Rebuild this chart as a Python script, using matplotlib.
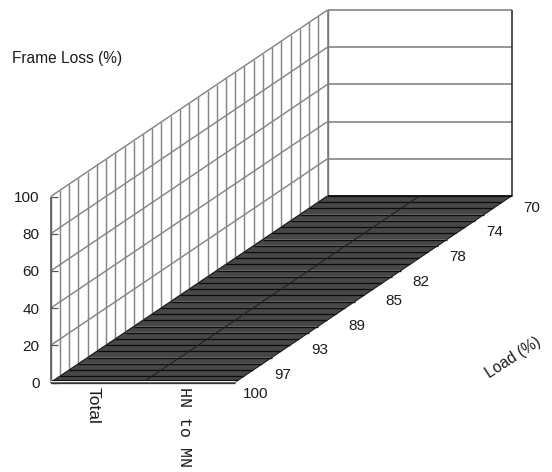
import matplotlib
matplotlib.use("Agg")
import matplotlib.pyplot as plt
from matplotlib.patches import Polygon

# Data
categories = ["Total", "HN to MN"]
loads = [70, 71, 72, 73, 74, 75, 76, 77, 78, 79, 80, 81, 82, 83, 84, 85,
         86, 87, 88, 89, 90, 91, 92, 93, 94, 95, 96, 97, 98, 99, 100]
load_labels = [70, 74, 78, 82, 85, 89, 93, 97, 100]
loss_ticks = [0, 20, 40, 60, 80, 100]

total_loss = [0, 0, 0, 0, 0, 0, 0, 0, 0, 0, 0, 0, 0, 0, 0, 0,
              0, 0, 0, 0, 0, 0, 0, 0, 0, 0, 0, 0, 0, 0, 0]
hn_mn_loss = [0, 0, 0, 0, 0, 0, 0, 0, 0, 0, 0, 0, 0, 0, 0, 0,
              0, 0, 0, 0, 0, 0, 0, 0, 0, 0, 0, 0, 0, 0, 0]

# Oblique projection of the box
X0, Y0 = 50.7, 382.5
WIDTH = 184.0
DX, DY = 276.8, -186.5
HEIGHT = 186.0


def project(cat, load, value):
    # cat: 0..2 along the front, load: 70 at the back, value in percent
    depth = (100 - load) / 30.0
    x = X0 + cat / 2.0 * WIDTH + depth * DX
    y = Y0 + depth * DY - value / 100.0 * HEIGHT
    return x, y


plt.rcParams['font.family'] = ['Liberation Sans', 'DejaVu Sans']

fig = plt.figure(figsize=(5.52, 4.72), dpi=100)
ax = fig.add_axes([0, 0, 1, 1])
ax.set_xlim(0, 552)
ax.set_ylim(472, 0)
ax.axis('off')

GRID = '#858585'
TEXT = '#1c1c1c'


def seg(a, b, color=GRID, lw=1.0, z=2):
    ax.plot([a[0], b[0]], [a[1], b[1]], color=color, lw=lw, zorder=z,
            solid_capstyle='butt')


# Side wall
for load in loads:
    seg(project(0, load, 0), project(0, load, 100), lw=1.05)
for v in loss_ticks:
    seg(project(0, 100, v), project(0, 70, v), lw=1.05)
    p = project(0, 100, v)
    seg((p[0], p[1]), (p[0] + 7, p[1]), color='#555555', lw=0.9)
seg(project(0, 100, 0), project(0, 100, 100), color='#555555', lw=1.1, z=3)

# Back wall
for v in loss_ticks:
    seg(project(0, 70, v), project(2, 70, v), lw=1.2)
seg(project(0, 70, 0), project(0, 70, 100), color='#777777', lw=1.1)
seg(project(2, 70, 0), project(2, 70, 100), color='#333333', lw=1.2)

# Surface, one ribbon per load step
series = [total_loss, hn_mn_loss]
for c in range(len(categories)):
    vals = series[c]
    for i in range(len(loads) - 1):
        pts = [project(c, loads[i], vals[i]),
               project(c + 1, loads[i], vals[i]),
               project(c + 1, loads[i + 1], vals[i + 1]),
               project(c, loads[i + 1], vals[i + 1])]
        ax.add_patch(Polygon(pts, closed=True, fc='#474747', ec='none', zorder=4))
    for i in range(len(loads)):
        seg(project(c, loads[i], vals[i]), project(c + 1, loads[i], vals[i]),
            color='#0c0c0c', lw=0.9, z=5)
    seg(project(c, 70, vals[0]), project(c, 100, vals[-1]), color='#1c1c1c', lw=0.8, z=5)
seg(project(2, 70, 0), project(2, 100, 0), color='#1c1c1c', lw=0.8, z=5)

# Front strip
fx0, fy0 = project(0, 100, 0)
fx1, fy1 = project(2, 100, 0)
ax.add_patch(Polygon([(fx0, fy0 - 2.4), (fx1 + 3, fy0 - 2.4), (fx1, fy0), (fx0, fy0)],
                     closed=True, fc='white', ec='none', zorder=6))
seg((fx0, fy0), (fx1, fy1), color='#444444', lw=1.1, z=7)
seg((fx0, fy0 - 2.6), (fx1 + 3, fy0 - 2.6), color='#111111', lw=0.8, z=7)
seg(project(0, 70, 0), project(2, 70, 0), color='#111111', lw=1.3, z=7)

# Tick labels
FS = 11
for v in loss_ticks:
    x, y = project(0, 100, v)
    ax.text(x - 11, y + 1.5, str(v), ha='right', va='center', fontsize=FS, color=TEXT)
for load in load_labels:
    x, y = project(2, load, 0)
    ax.text(x + 20.5, y + 11.5, str(load), ha='center', va='center', fontsize=FS, color=TEXT)

ax.text(93, 387, categories[0], rotation=-90, ha='center', va='top', fontsize=12.5, color=TEXT)
ax.text(184, 387, categories[1], rotation=-90, ha='center', va='top', fontsize=12,
        family='Liberation Mono', color=TEXT)

ax.text(12, 58, "Frame Loss (%)", ha='left', va='center', fontsize=11.2, color=TEXT)
ax.text(513.5, 358, "Load (%)", rotation=33, rotation_mode='anchor', ha='center', va='center',
        fontsize=11.2, color=TEXT)

fig.savefig("out.png", dpi=100, facecolor='white')
